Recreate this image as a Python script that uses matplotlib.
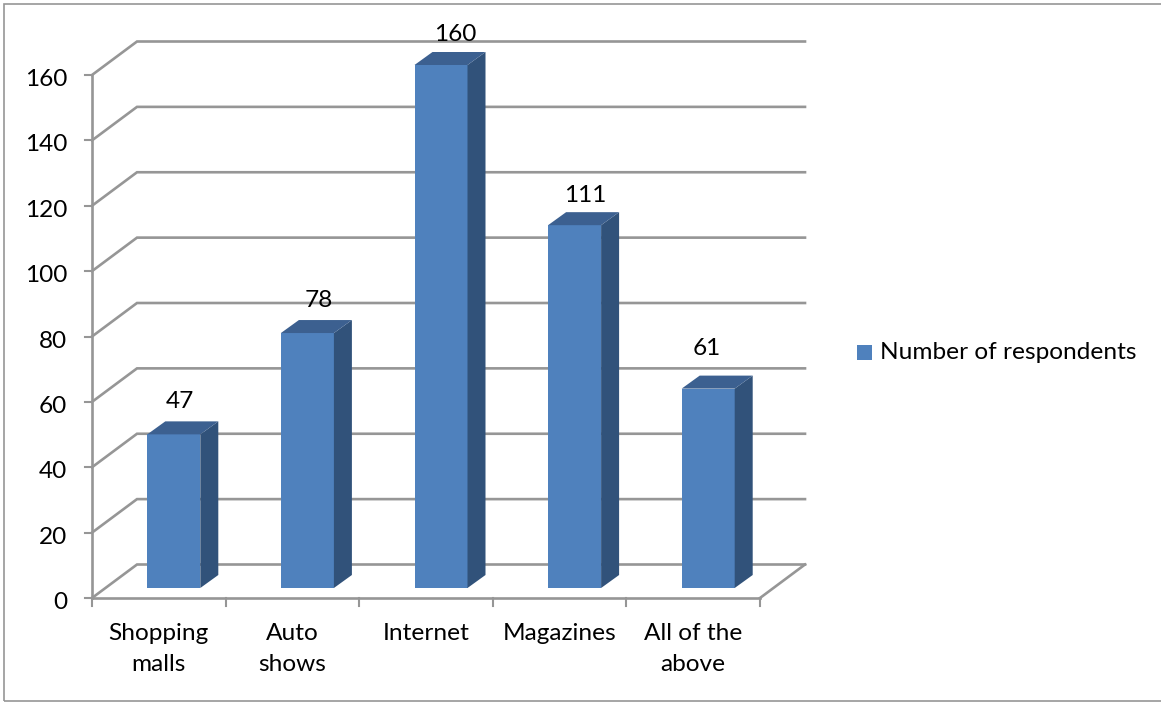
import matplotlib
matplotlib.use("Agg")
import matplotlib.pyplot as plt
from matplotlib.patches import Polygon, Rectangle

plt.rcParams['font.family'] = ['Lato', 'DejaVu Sans']

categories = ["Shopping\nmalls", "Auto\nshows", "Internet", "Magazines", "All of the\nabove"]
respondents = [47, 78, 160, 111, 61]
y_ticks = [0, 20, 40, 60, 80, 100, 120, 140, 160]
series_name = "Number of respondents"

# where the data labels sit relative to the bar, in pixels
label_dx = [6, 11, 14.5, 11, -1]
label_dy = [33, 33, 30, 30, 40]

W, H = 1161, 702
fig = plt.figure(figsize=(W / 100, H / 100), dpi=100)

# axes box is the front plane of the fake 3D chart, in pixels of the picture
x0, x1, y0, y1 = 92, 760, 598, 75
ax = fig.add_axes([x0 / W, 1 - y0 / H, (x1 - x0) / W, (y0 - y1) / H])
ax.set_xlim(0, len(categories))
ax.set_ylim(0, 160)
ax.axis('off')

px = len(categories) / (x1 - x0)   # one pixel in x data units
py = 160 / (y0 - y1)               # one pixel in y data units
wall_dx, wall_dy = 45 * px, 33.5 * py
bar_dx, bar_dy = 18 * px, 13 * py
line_col = '#969696'
front_col, side_col, top_col = '#4f81bd', '#31527a', '#3c6090'
fs = 17.6

# walls and grid
for t in y_ticks:
    ax.plot([0, wall_dx, len(categories) + wall_dx], [t, t + wall_dy, t + wall_dy],
            color=line_col, lw=1.9, clip_on=False, zorder=1, solid_joinstyle='miter')
    ax.plot([-7 * px, 0], [t, t], color=line_col, lw=1.5, clip_on=False, zorder=1)
    ax.text(-25 * px, t - 4.5 * py, str(t), ha='right', va='center', fontsize=fs, color='black')
ax.plot([0, 0], [0, 160], color=line_col, lw=1.9, clip_on=False, zorder=1)
ax.plot([0, len(categories)], [0, 0], color=line_col, lw=1.9, clip_on=False, zorder=1)
ax.plot([len(categories), len(categories) + wall_dx], [0, wall_dy], color=line_col, lw=1.9,
        clip_on=False, zorder=1)
for i in range(len(categories) + 1):
    ax.plot([i, i], [0, -8 * py], color=line_col, lw=1.5, clip_on=False, zorder=1)

# bars
bar_w = 53 * px
base = 10 * py
for i, (name, v) in enumerate(zip(categories, respondents)):
    left = i + 0.5 + 15 * px - bar_w / 2
    top = v + base
    ax.add_patch(Rectangle((left, base), bar_w, v, fc=front_col, ec='none', zorder=3, clip_on=False))
    ax.add_patch(Polygon([(left + bar_w, base), (left + bar_w + bar_dx, base + bar_dy),
                          (left + bar_w + bar_dx, top + bar_dy), (left + bar_w, top)],
                         fc=side_col, ec='none', zorder=3, clip_on=False))
    ax.add_patch(Polygon([(left, top), (left + bar_dx, top + bar_dy),
                          (left + bar_w + bar_dx, top + bar_dy), (left + bar_w, top)],
                         fc=top_col, ec='none', zorder=3, clip_on=False))
    ax.text(left + bar_w / 2 + label_dx[i] * px, top + label_dy[i] * py, str(v), ha='center', va='center',
            fontsize=fs, color='black', zorder=4)
    ax.text(i + 0.5, -24.5 * py, name, ha='center', va='top', fontsize=fs, color='black',
            linespacing=1.6)

# legend
fig.patches.append(Rectangle((857 / W, 1 - 360 / H), 15 / W, 15 / H, transform=fig.transFigure,
                             fc=front_col, ec='none'))
fig.text(880 / W, 1 - 353 / H, series_name, ha='left', va='center', fontsize=fs, color='black')

# outer frame
fig.patches.append(Rectangle((4 / W, 1.5 / H), 1160 / W, 696.5 / H, transform=fig.transFigure,
                             fc='none', ec=line_col, lw=1.2))

fig.savefig('out.png', dpi=100)
